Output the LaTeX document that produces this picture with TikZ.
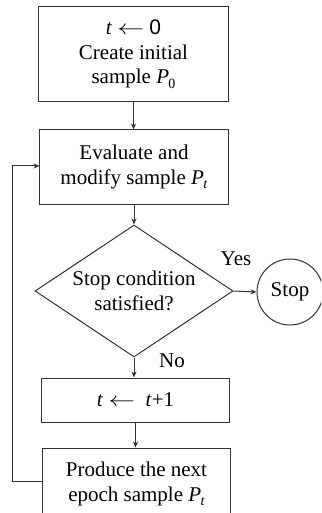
\documentclass[tikz,border=0pt]{standalone}
\usepackage{fontspec}
\setmainfont{Liberation Serif}
\setsansfont{Liberation Sans}
\usetikzlibrary{shapes.geometric,arrows.meta}
\newcommand\Psub[1]{\textit{P}\kern-0.03em\raisebox{-0.5ex}{\fontsize{14bp}{14bp}\selectfont #1}}
\newcommand\larr{\scalebox{1.3}[1]{$\leftarrow$}}
\begin{document}
\begin{tikzpicture}[x=1bp,y=-1bp,
  every node/.style={font=\fontsize{21bp}{24.5bp}\selectfont, align=center, inner sep=0pt},
  box/.style={draw=black!80, line width=1bp},
  conn/.style={draw=black!80, line width=1bp, -{Stealth[length=6bp,width=5bp]}},
  lbl/.style={}]
\clip (0,0) rectangle (321,513);
\node[box, minimum width=189bp, minimum height=95bp] (init) at (133.5,54.5)
  {\textit{t} \larr\ \textsf{0}\\Create initial\\sample \Psub{0}};
\node[box, minimum width=188bp, minimum height=74bp] (eval) at (134,167)
  {Evaluate and\\modify sample \Psub{\textit{t}}};
\node[box, diamond, aspect=1.5, minimum width=198bp, minimum height=132bp] (cond) at (134,291)
  {Stop condition\\satisfied?};
\node[box, circle, minimum size=66bp] (stop) at (290,292) {Stop};
\node[box, minimum width=187bp, minimum height=44bp] (inc) at (135.5,400)
  {\textit{t} \larr\ \ \textit{t}+1};
\node[box, minimum width=187bp, minimum height=72bp] (next) at (136.5,484)
  {Produce the next\\epoch sample \Psub{\textit{t}}};
\node[lbl] (yes) at (236,259) {Yes};
\node[lbl] (no) at (172,361) {No};
\coordinate (fbbot) at (12,481);
\coordinate (fbtop) at (12,166);
\draw[conn] (init.south) -- (init.south |- eval.north);
\draw[conn] (eval.south) -- (eval.south |- cond.north);
\draw[conn] (cond.east) -- (stop.west);
\draw[conn] (cond.south) -- (cond.south |- inc.north);
\draw[conn] (inc.south) -- (inc.south |- next.north);
\draw[conn] (next.west |- fbbot) -- (fbbot) -- (fbtop) -- (eval.west |- fbtop);
\end{tikzpicture}
\end{document}
